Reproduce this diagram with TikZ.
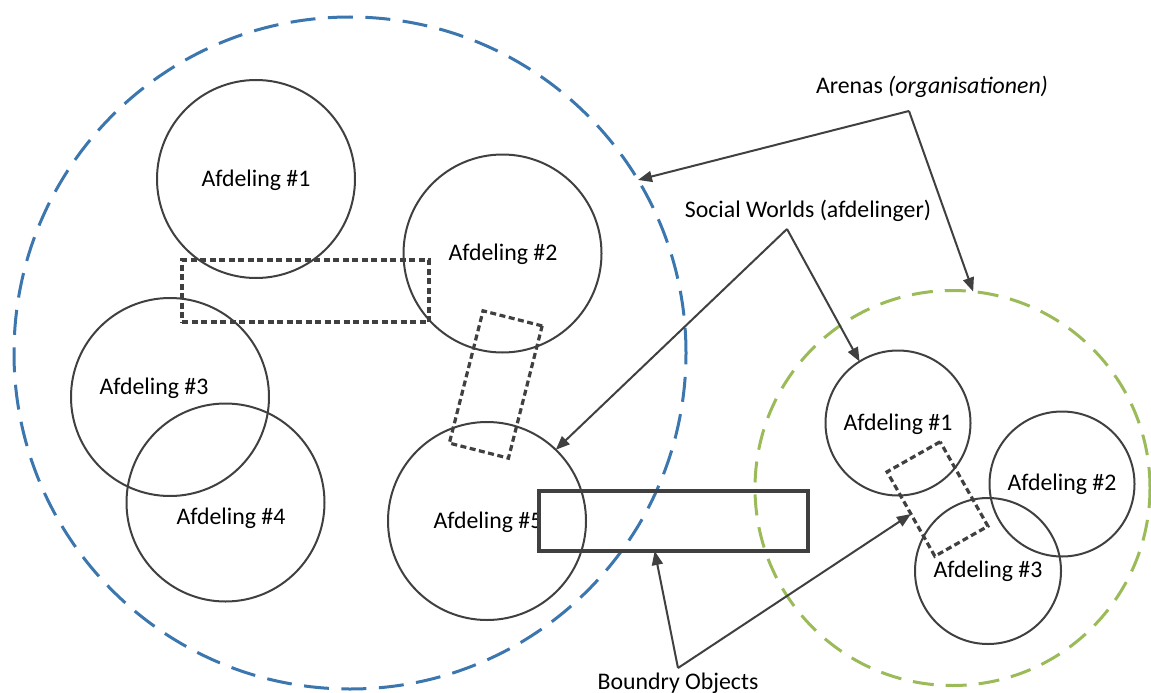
\documentclass[tikz,border=0pt]{standalone}
\usepackage{fontspec}
\setmainfont{Carlito}
\usetikzlibrary{arrows.meta,calc}
\definecolor{ln}{RGB}{64,64,64}
\definecolor{arblue}{RGB}{59,118,175}
\definecolor{argreen}{RGB}{155,187,89}
\begin{document}
\begin{tikzpicture}[x=1pt,y=-1pt,
  world/.style={circle, draw=ln, line width=2pt, inner sep=0pt, outer sep=0pt, minimum size=#1},
  arena/.style={circle, line width=3pt, inner sep=0pt, outer sep=0pt, minimum size=#1},
  lbl/.style={inner sep=0pt, font=\fontsize{23.8}{28}\selectfont, text=black},
  bobox/.style={draw=ln, line width=3.2pt, dash pattern=on 6pt off 3.5pt, inner sep=0pt, outer sep=0pt},
  conn/.style={draw=ln, line width=2pt, -{Triangle[length=14pt,width=11pt]}},
  ]
\useasboundingbox (0,0) rectangle (1151,693);
% arenas
\node[arena=672pt, draw=arblue, dash pattern=on 25pt off 12.5pt] (arena1) at (350,353) {};
\node[arena=395pt, draw=argreen, dash pattern=on 21pt off 12pt] (arena2) at (952.5,488) {};
% social worlds, left arena
\node[world=198pt] (L1) at (256,179) {};
\node[world=198pt] (L2) at (502.5,253.5) {};
\node[world=198pt] (L3) at (170,397) {};
\node[world=198pt] (L4) at (225.5,502.5) {};
\node[world=198pt] (L5) at (487,521) {};
% social worlds, right arena
\node[world=145pt] (R1) at (898,423) {};
\node[world=145pt] (R2) at (1062,484) {};
\node[world=146pt] (R3) at (988,571) {};
% boundary objects (dotted)
\node[bobox, minimum width=247pt, minimum height=62pt] (bo1) at (305.5,291) {};
\node[bobox, minimum width=61pt, minimum height=136.5pt, rotate=-14.3] (bo2) at (495.75,384.5) {};
\node[bobox, minimum width=61pt, minimum height=97pt, rotate=29.5] (bo3) at (937.5,499) {};
% labels in circles
\node[lbl] (tL1) at (256,180) {Afdeling \#1};
\node[lbl] (tL2) at (503,254) {Afdeling \#2};
\node[lbl] (tL3) at (154,388) {Afdeling \#3};
\node[lbl] (tL4) at (231,518) {Afdeling \#4};
\begin{scope}
\clip (0,0) rectangle (539,693);
\node[lbl] (tL5) at (488,522) {Afdeling \#5};
\end{scope}
\node[lbl] (tR1) at (898,424) {Afdeling \#1};
\node[lbl] (tR2) at (1062,484) {Afdeling \#2};
\node[lbl] (tR3) at (988,571) {Afdeling \#3};
% solid boundary object
\node[draw=ln, line width=3.5pt, inner sep=0pt, outer sep=0pt, minimum width=269pt, minimum height=60pt] (bo) at (673.5,521) {};
% captions
\node[lbl] (arenas) at (932,87) {Arenas \textit{(organisationen)}};
\node[lbl] (social) at (808,211) {Social Worlds (afdelinger)};
\node[lbl] (boundry) at (678,683) {Boundry Objects};
\coordinate (arA) at (909,111);
\coordinate (swA) at (787,229);
\coordinate (boA) at (678,668);
% connectors
\draw[conn] (arA) -- (arena1.31);
\draw[conn] (arA) -- (arena2.84);
\draw[conn] (swA) -- (L5.46);
\draw[conn] (swA) -- (R1.122);
\draw[conn] (boA) -- ($(bo.south west)!0.43!(bo.south east)$);
\draw[conn] (boA) -- (bo3.west);
\end{tikzpicture}
\end{document}
